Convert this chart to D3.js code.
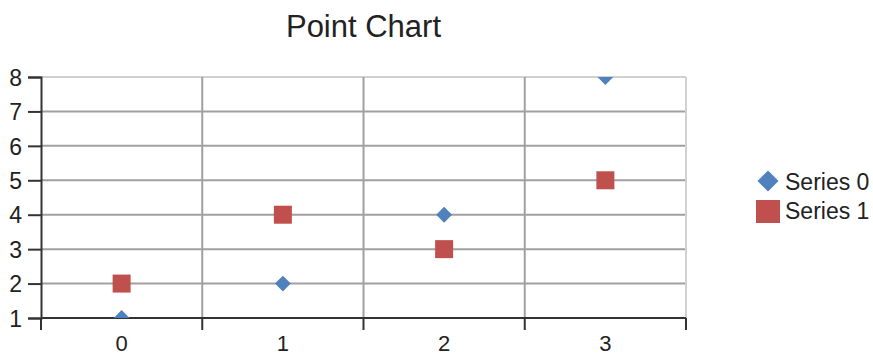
<!DOCTYPE html>
<html>
<head>
<meta charset="utf-8">
<script src="https://cdn.jsdelivr.net/npm/d3@7"></script>
<style>
  body { margin: 0; background: #fff; }
</style>
</head>
<body>
<script>
// chart data
const categories = [0, 1, 2, 3];
const series0 = [1, 2, 4, 8];
const series1 = [2, 4, 3, 5];
const yTicks = [1, 2, 3, 4, 5, 6, 7, 8];
const seriesNames = ["Series 0", "Series 1"];

const width = 873, height = 356;
const margin = { top: 77, right: 187, bottom: 38, left: 41 };
const plotWidth = width - margin.left - margin.right;
const plotHeight = height - margin.top - margin.bottom;
const blue = "#4f81bd", red = "#c0504d";
const font = "Arial, 'Liberation Sans', sans-serif";

const svg = d3.select("body").append("svg")
    .attr("width", width)
    .attr("height", height)
    .style("font-family", font);

const x = d3.scaleBand().domain(categories).range([0, plotWidth]);
const y = d3.scaleLinear().domain([1, 8]).range([plotHeight, 0]);

const g = svg.append("g").attr("transform", `translate(${margin.left},${margin.top})`);

// clip so markers on the edges are cut like the original
g.append("clipPath").attr("id", "plotClip")
  .append("rect").attr("width", plotWidth).attr("height", plotHeight);

// horizontal grid
g.selectAll(".hgrid")
  .data(yTicks.filter(d => d > 1))
  .join("line")
    .attr("x1", 0).attr("x2", plotWidth)
    .attr("y1", d => y(d)).attr("y2", d => y(d))
    .attr("stroke", d => d === 8 ? "#d0d0d0" : "#a0a0a0")
    .attr("stroke-width", 2);

// vertical grid (band edges)
const edges = categories.slice(1).map(d => x(d)).concat([plotWidth]);
g.selectAll(".vgrid")
  .data(edges)
  .join("line")
    .attr("x1", d => d).attr("x2", d => d)
    .attr("y1", 0).attr("y2", plotHeight)
    .attr("stroke", (d, i) => i === edges.length - 1 ? "#d0d0d0" : "#a0a0a0")
    .attr("stroke-width", 2);

// y axis
const yAxis = g.append("g")
    .call(d3.axisLeft(y).tickValues(yTicks).tickFormat(d3.format("d")).tickSize(13).tickPadding(6));
yAxis.attr("font-family", font);
yAxis.select(".domain").attr("stroke", "#333").attr("stroke-width", 2);
yAxis.selectAll(".tick line").attr("stroke", "#333").attr("stroke-width", 2);
yAxis.selectAll("text").style("font-size", "23px").attr("fill", "#222").attr("dy", "0.36em");

// x axis: ticks on band edges, labels on band centres
const xAxisG = g.append("g").attr("transform", `translate(0,${plotHeight})`);
xAxisG.append("line")
    .attr("x1", 0).attr("x2", plotWidth)
    .attr("stroke", "#333").attr("stroke-width", 2);
xAxisG.selectAll(".xtick")
  .data([0].concat(edges))
  .join("line")
    .attr("x1", d => d).attr("x2", d => d)
    .attr("y1", 0).attr("y2", 12)
    .attr("stroke", "#333").attr("stroke-width", 2);
xAxisG.selectAll(".xlabel")
  .data(categories)
  .join("text")
    .attr("x", d => x(d) + x.bandwidth() / 2)
    .attr("y", 33)
    .attr("text-anchor", "middle")
    .style("font-size", "22px")
    .attr("fill", "#222")
    .text(d => d);

// points
const marks = g.append("g").attr("clip-path", "url(#plotClip)");
const diamond = d3.symbol().type(d3.symbolDiamond2).size(160);

marks.selectAll(".s0")
  .data(categories)
  .join("path")
    .attr("d", diamond)
    .attr("transform", (d, i) => `translate(${x(d) + x.bandwidth() / 2},${y(series0[i])})`)
    .attr("fill", blue);

marks.selectAll(".s1")
  .data(categories)
  .join("rect")
    .attr("x", d => x(d) + x.bandwidth() / 2 - 9)
    .attr("y", (d, i) => y(series1[i]) - 9)
    .attr("width", 18).attr("height", 18)
    .attr("fill", red);

// title
svg.append("text")
    .attr("x", margin.left + plotWidth / 2)
    .attr("y", 37)
    .attr("text-anchor", "middle")
    .style("font-size", "31px")
    .attr("fill", "#222")
    .text("Point Chart");

// legend
const legend = svg.append("g").attr("transform", "translate(768,181)");
legend.append("path")
    .attr("d", d3.symbol().type(d3.symbolDiamond2).size(280))
    .attr("fill", blue);
legend.append("rect")
    .attr("x", -12).attr("y", 19).attr("width", 24).attr("height", 23)
    .attr("fill", red);
legend.selectAll("text")
  .data(seriesNames)
  .join("text")
    .attr("x", 17)
    .attr("y", (d, i) => i * 29 + 9)
    .style("font-size", "23px")
    .attr("fill", "#222")
    .text(d => d);
</script>
</body>
</html>
